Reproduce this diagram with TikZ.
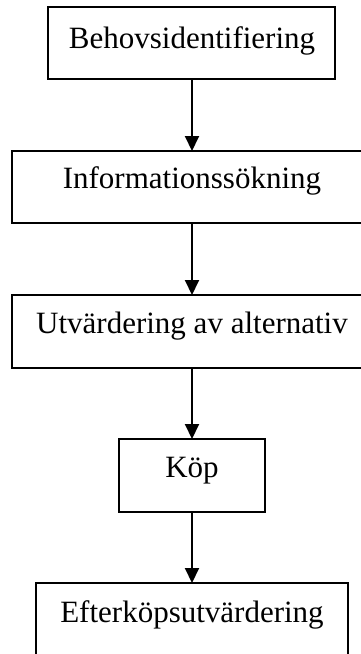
\documentclass[tikz,border=0pt]{standalone}
\usepackage{fontspec}
\setmainfont{Liberation Serif}
\usetikzlibrary{arrows.meta}
\begin{document}
\begin{tikzpicture}[x=1pt,y=-1pt,
  boxstyle/.style={draw=black,line width=2pt},
  lbl/.style={anchor=base,inner sep=0pt,font=\fontsize{31}{37}\selectfont},
  conn/.style={line width=2pt,-{Triangle[length=15pt,width=14pt]}}]
\useasboundingbox (0,0) rectangle (361,654);
\clip (0,0) rectangle (361,654);
\draw[boxstyle] (48,7) rectangle (335,79);
\coordinate (b1) at (192,79);
\node[lbl] (t1) at (192,48) {Behovsidentifiering};
\draw[boxstyle] (12,151) rectangle (370,223);
\coordinate (b2t) at (192,151);
\coordinate (b2) at (192,223);
\node[lbl] (t2) at (192,188) {Informationssökning};
\draw[boxstyle] (12,295) rectangle (370,368);
\coordinate (b3t) at (192,295);
\coordinate (b3) at (192,368);
\node[lbl] (t3) at (192,333) {Utvärdering av alternativ};
\draw[boxstyle] (119,439) rectangle (265,512);
\coordinate (b4t) at (192,439);
\coordinate (b4) at (192,512);
\node[lbl] (t4) at (192,477) {Köp};
\draw[boxstyle] (36,583) rectangle (348,670);
\coordinate (b5t) at (192,583);
\node[lbl] (t5) at (192,622) {Efterköpsutvärdering};
\draw[conn] (b1) -- (b2t);
\draw[conn] (b2) -- (b3t);
\draw[conn] (b3) -- (b4t);
\draw[conn] (b4) -- (b5t);
\end{tikzpicture}
\end{document}
